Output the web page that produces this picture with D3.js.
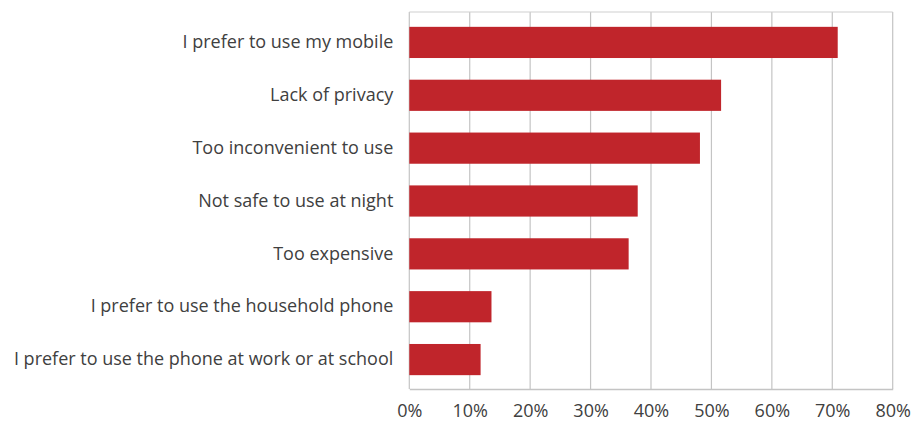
<!DOCTYPE html>
<html>
<head>
<meta charset="utf-8">
<script src="https://cdn.jsdelivr.net/npm/d3@7"></script>
<style>
  html, body { margin: 0; padding: 0; background: #fff; }
  svg { display: block; }
  text { font-family: "Open Sans", "Noto Sans", sans-serif; fill: #404040; }
</style>
</head>
<body>
<svg id="chart" width="912" height="423"></svg>
<script>
// Reasons for not using a public phone (share of respondents)
const categories = [
  "I prefer to use my mobile",
  "Lack of privacy",
  "Too inconvenient to use",
  "Not safe to use at night",
  "Too expensive",
  "I prefer to use the household phone",
  "I prefer to use the phone at work or at school"
];
const values = [70.9, 51.6, 48.1, 37.8, 36.3, 13.6, 11.8];
const tickValues = [0, 10, 20, 30, 40, 50, 60, 70, 80];
const tickLabels = ["0%", "10%", "20%", "30%", "40%", "50%", "60%", "70%", "80%"];

const svg = d3.select("#chart");
const plot = { left: 409.3, right: 892.7, top: 12, bottom: 389 };

const x = d3.scaleLinear().domain([0, 80]).range([plot.left, plot.right]);
const y = d3.scaleBand().domain(categories).range([16, 386]).paddingInner(0.41).paddingOuter(0.205);

// vertical gridlines (including frame sides)
svg.append("g")
  .selectAll("line")
  .data(tickValues)
  .join("line")
  .attr("x1", d => x(d)).attr("x2", d => x(d))
  .attr("y1", plot.top).attr("y2", plot.bottom)
  .attr("stroke", "#c4c4c4")
  .attr("stroke-width", 1.2);

// top border
svg.append("line")
  .attr("x1", plot.left).attr("x2", plot.right)
  .attr("y1", plot.top).attr("y2", plot.top)
  .attr("stroke", "#cfcfcf").attr("stroke-width", 1.2);

// bars
svg.append("g")
  .selectAll("rect")
  .data(values)
  .join("rect")
  .attr("x", x(0))
  .attr("y", (d, i) => y(categories[i]))
  .attr("width", d => x(d) - x(0))
  .attr("height", y.bandwidth())
  .attr("fill", "#c0252b");

// x axis
const xAxis = d3.axisBottom(x)
  .tickValues(tickValues)
  .tickFormat((d, i) => tickLabels[i])
  .tickSize(0)
  .tickPadding(15);
const gx = svg.append("g")
  .attr("transform", `translate(0,${plot.bottom})`)
  .call(xAxis);
gx.select(".domain").attr("stroke", "#c4c4c4").attr("stroke-width", 1.6);
gx.selectAll("text")
  .style("font-size", "18px")
  .attr("fill", "#404040");

// y axis labels
const yAxis = d3.axisLeft(y).tickSize(0).tickPadding(16);
const gy = svg.append("g")
  .attr("transform", `translate(${plot.left},0)`)
  .call(yAxis);
gy.select(".domain").remove();
gy.selectAll("text")
  .style("font-size", "18px")
  .attr("fill", "#404040");
</script>
</body>
</html>
